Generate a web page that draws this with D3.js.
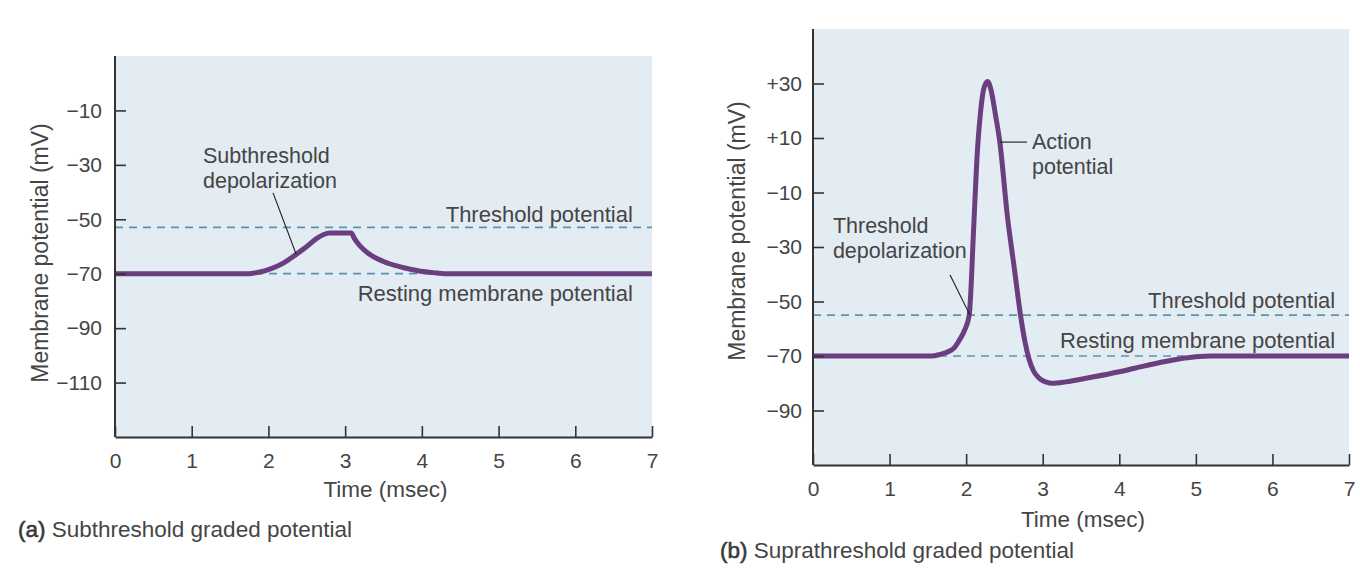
<!DOCTYPE html>
<html>
<head>
<meta charset="utf-8">
<script src="https://cdn.jsdelivr.net/npm/d3@7"></script>
<style>
  html, body { margin: 0; padding: 0; background: #ffffff; }
  svg { display: block; }
  text { font-family: "Liberation Sans", Arial, sans-serif; fill: #454545; }
</style>
</head>
<body>
<svg id="chart" width="1360" height="586"></svg>
<script>
// ---------------- data ----------------
const xTicks = [0, 1, 2, 3, 4, 5, 6, 7];
const xTickLabels = ["0", "1", "2", "3", "4", "5", "6", "7"];

// Panel (a): subthreshold graded potential
const yTicksA = [-110, -90, -70, -50, -30, -10];
const yTickLabelsA = ["\u2212110", "\u221290", "\u221270", "\u221250", "\u221230", "\u221210"];
const timeA = [0, 1.7, 1.8, 1.9, 2.0, 2.2, 2.37, 2.5, 2.63, 2.72, 2.8, 3.08, 3.12, 3.17, 3.3, 3.5, 3.75, 3.95, 4.15, 4.3, 7];
const voltA = [-70, -70, -69.8, -69.3, -68.5, -66, -62.7, -60, -57, -55.6, -55, -55, -57, -59, -62.5, -65.5, -67.7, -68.9, -69.6, -70, -70];
const thresholdA = -53;
const restingA = -70;

// Panel (b): suprathreshold graded potential
const yTicksB = [-90, -70, -50, -30, -10, 10, 30];
const yTickLabelsB = ["\u221290", "\u221270", "\u221250", "\u221230", "\u221210", "+10", "+30"];
const timeB = [0, 1.55, 1.66, 1.75, 1.85, 1.92, 1.98, 2.04, 2.1, 2.14, 2.19, 2.23, 2.28, 2.33, 2.38, 2.44, 2.54, 2.63, 2.71, 2.77, 2.82, 2.88, 2.96, 3.05, 3.12, 3.3, 3.6, 4.0, 4.2, 4.6, 5.0, 5.2, 7];
const voltB = [-70, -70, -69.4, -68.6, -66.8, -63.8, -60.5, -55, -22, 2, 20, 28, 30.7, 27, 19, 8.5, -19, -38, -55, -65, -71, -75.5, -78.3, -79.6, -80, -79.5, -78, -75.8, -74.5, -72, -70.3, -70, -70];
const thresholdB = -55;
const restingB = -70;

// ---------------- style ----------------
const panelFill = "#e3ebf3";
const traceColor = "#6b3f7f";
const dashColor = "#5a96ad";
const axisColor = "#333333";

const svg = d3.select("#chart");

function drawPanel(cfg) {
  const x = d3.scaleLinear().domain([0, 7]).range(cfg.xRange);
  const y = d3.scaleLinear().domain(cfg.yDomain).range(cfg.yRange);
  const g = svg.append("g");

  // background panel
  g.append("rect")
    .attr("x", x(0)).attr("y", y(cfg.yDomain[1]))
    .attr("width", x(7) - x(0))
    .attr("height", y(cfg.yDomain[0]) - y(cfg.yDomain[1]))
    .attr("fill", panelFill);

  // dashed reference lines
  [cfg.threshold, cfg.resting].forEach(v => {
    g.append("line")
      .attr("x1", x(0)).attr("x2", x(7))
      .attr("y1", y(v)).attr("y2", y(v))
      .attr("stroke", dashColor).attr("stroke-width", 1.7)
      .attr("stroke-dasharray", "8,6");
  });

  // trace
  const pts = cfg.time.map((t, i) => [t, cfg.volt[i]]);
  const line = d3.line().x(d => x(d[0])).y(d => y(d[1])).curve(d3.curveMonotoneX);
  g.append("path")
    .attr("d", line(pts))
    .attr("fill", "none")
    .attr("stroke", traceColor)
    .attr("stroke-width", 5)
    .attr("stroke-linejoin", "round");

  // axes
  const yAxis = d3.axisLeft(y)
    .tickValues(cfg.yTicks)
    .tickFormat((d, i) => cfg.yTickLabels[i])
    .tickSizeInner(-11).tickSizeOuter(0).tickPadding(cfg.yPad);
  const ya = g.append("g").attr("transform", `translate(${x(0)},0)`).call(yAxis);

  const xAxis = d3.axisBottom(x)
    .tickValues(xTicks)
    .tickFormat((d, i) => xTickLabels[i])
    .tickSizeInner(-11).tickSizeOuter(0).tickPadding(16);
  const xa = g.append("g").attr("transform", `translate(0,${y(cfg.yDomain[0])})`).call(xAxis);

  [ya, xa].forEach(a => {
    a.select(".domain").attr("stroke", axisColor).attr("stroke-width", 2);
    a.selectAll(".tick line").attr("stroke", axisColor).attr("stroke-width", 1.6);
    a.selectAll(".tick text")
      .attr("font-family", "Liberation Sans, Arial, sans-serif")
      .attr("font-size", 21).attr("fill", "#454545");
  });
  ya.select(".domain").attr("d", `M0,${y(cfg.yDomain[0])}V${y(cfg.yDomain[1])}`);

  // axis titles
  g.append("text")
    .attr("x", (x(0) + x(7)) / 2 + 2)
    .attr("y", y(cfg.yDomain[0]) + cfg.xTitleOff)
    .attr("text-anchor", "middle")
    .attr("font-size", 22.5)
    .text("Time (msec)");

  g.append("text")
    .attr("transform", `translate(${cfg.yTitle[0]},${cfg.yTitle[1]}) rotate(-90)`)
    .attr("text-anchor", "middle")
    .attr("dy", "0.35em")
    .attr("font-size", 23)
    .text("Membrane potential (mV)");

  // reference line labels
  cfg.refLabels.forEach(l => {
    g.append("text")
      .attr("x", x(l.t)).attr("y", y(l.v))
      .attr("text-anchor", "end")
      .attr("font-size", 22)
      .text(l.text);
  });

  // annotations
  cfg.notes.forEach(n => {
    const txt = g.append("text")
      .attr("x", x(n.t)).attr("y", y(n.v))
      .attr("font-size", 21.5);
    n.lines.forEach((s, i) => {
      txt.append("tspan").attr("x", x(n.t)).attr("dy", i === 0 ? 0 : 25).text(s);
    });
    g.append("line")
      .attr("x1", x(n.leader[0][0])).attr("y1", y(n.leader[0][1]))
      .attr("x2", x(n.leader[1][0])).attr("y2", y(n.leader[1][1]))
      .attr("stroke", "#1a1a1a").attr("stroke-width", 1.1);
  });

  // caption
  const cap = g.append("text")
    .attr("x", cfg.caption[0]).attr("y", cfg.caption[1])
    .attr("font-size", 22.5);
  cap.append("tspan").attr("stroke", "#3a3a3a").attr("stroke-width", 0.6).attr("fill", "#3a3a3a").text(cfg.captionTag);
  cap.append("tspan").text(" " + cfg.captionText);
}

drawPanel({
  xRange: [115, 652],
  yDomain: [-130, 10],
  yRange: [437, 56],
  yTicks: yTicksA,
  yTickLabels: yTickLabelsA,
  yPad: 13,
  xTitleOff: 60,
  time: timeA,
  volt: voltA,
  threshold: thresholdA,
  resting: restingA,
  yTitle: [40, 253],
  refLabels: [
    { t: 6.75, v: -51.0, text: "Threshold potential" },
    { t: 6.75, v: -80.0, text: "Resting membrane potential" }
  ],
  notes: [
    { t: 1.147, v: -29.3, lines: ["Subthreshold", "depolarization"],
      leader: [[2.06, -40.3], [2.36, -62.7]] }
  ],
  caption: [18, 537],
  captionTag: "(a)",
  captionText: "Subthreshold graded potential"
});

drawPanel({
  xRange: [813, 1349],
  yDomain: [-110, 50],
  yRange: [465, 29],
  yTicks: yTicksB,
  yTickLabels: yTickLabelsB,
  yPad: 11,
  xTitleOff: 62,
  time: timeB,
  volt: voltB,
  threshold: thresholdB,
  resting: restingB,
  yTitle: [737, 231],
  refLabels: [
    { t: 6.82, v: -52.4, text: "Threshold potential" },
    { t: 6.82, v: -67.1, text: "Resting membrane potential" }
  ],
  notes: [
    { t: 0.26, v: -24.9, lines: ["Threshold", "depolarization"],
      leader: [[1.79, -40.3], [2.05, -55]] },
    { t: 2.86, v: 6.0, lines: ["Action", "potential"],
      leader: [[2.44, 8.5], [2.795, 8.5]] }
  ],
  caption: [720, 558],
  captionTag: "(b)",
  captionText: "Suprathreshold graded potential"
});
</script>
</body>
</html>
